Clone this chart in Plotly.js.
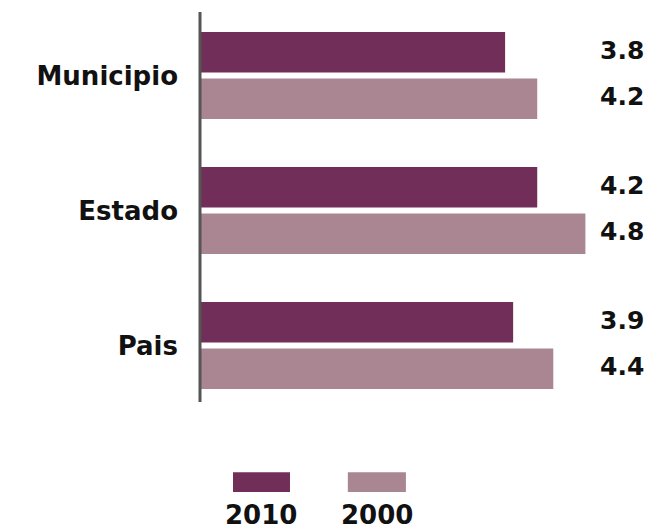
<!DOCTYPE html>
<html>
<head>
<meta charset="utf-8">
<script src="https://cdn.plot.ly/plotly-3.0.1.min.js"></script>
<style>html,body{margin:0;padding:0;background:#fff;}#chart{width:654px;height:531px;}</style>
</head>
<body>
<div id="chart"></div>
<script>
const categories = ["Municipio", "Estado", "Pais"];
const seriesNames = ["2010", "2000"];
const values2010 = [3.8, 4.2, 3.9];
const values2000 = [4.2, 4.8, 4.4];
const seriesColors = ["#712e58", "#aa8693"];

const numFont = {family: "DejaVu Sans", size: 25, color: "#111"};
const labFont = {family: "DejaVu Sans", size: 26, color: "#111"};
const seriesValues = [values2010, values2000];

const traces = seriesValues.map((vals, i) => ({
  type: "bar",
  orientation: "h",
  name: seriesNames[i],
  y: categories,
  x: vals,
  marker: {color: seriesColors[i]},
  hoverinfo: "none",
  showlegend: false
}));

const annotations = [];
const slot = (1 - 0.31) / 2;
seriesValues.forEach((vals, i) => {
  const off = (i - 0.5) * slot;
  vals.forEach((v, j) => {
    annotations.push({
      xref: "paper", yref: "y", x: 0.959, y: j + off - 0.015,
      text: "<b>" + v.toFixed(1) + "</b>", showarrow: false,
      xanchor: "center", yanchor: "middle", font: numFont
    });
  });
});

const shapes = [{
  type: "line", xref: "paper", yref: "paper",
  x0: 0, x1: 0, y0: 0.027, y1: 0.99,
  line: {color: "#555", width: 3}
}];
const legendX = [[0.075, 0.2045], [0.336, 0.468]];
seriesNames.forEach((n, i) => {
  shapes.push({
    type: "rect", xref: "paper", yref: "paper",
    x0: legendX[i][0], x1: legendX[i][1], y0: -0.195, y1: -0.146,
    fillcolor: seriesColors[i], line: {width: 0}
  });
  annotations.push({
    xref: "paper", yref: "paper",
    x: (legendX[i][0] + legendX[i][1]) / 2, y: -0.252,
    text: "<b>" + n + "</b>", showarrow: false,
    xanchor: "center", yanchor: "middle", font: labFont
  });
});

const layout = {
  width: 654, height: 531,
  margin: {l: 200, r: 14, t: 8, b: 118},
  paper_bgcolor: "#fff", plot_bgcolor: "#fff",
  barmode: "group", bargap: 0.31, bargroupgap: 0.13,
  xaxis: {range: [0, 5.48], visible: false, fixedrange: true},
  yaxis: {
    type: "category", autorange: "reversed",
    showline: false,
    showgrid: false, zeroline: false, ticks: "",
    ticklabelstandoff: 21,
    tickfont: {family: "DejaVu Sans", size: 26, color: "#111", weight: "bold"}
  },
  annotations: annotations,
  shapes: shapes,
  showlegend: false
};

Plotly.newPlot("chart", traces, layout, {displayModeBar: false, staticPlot: true});
</script>
</body>
</html>
